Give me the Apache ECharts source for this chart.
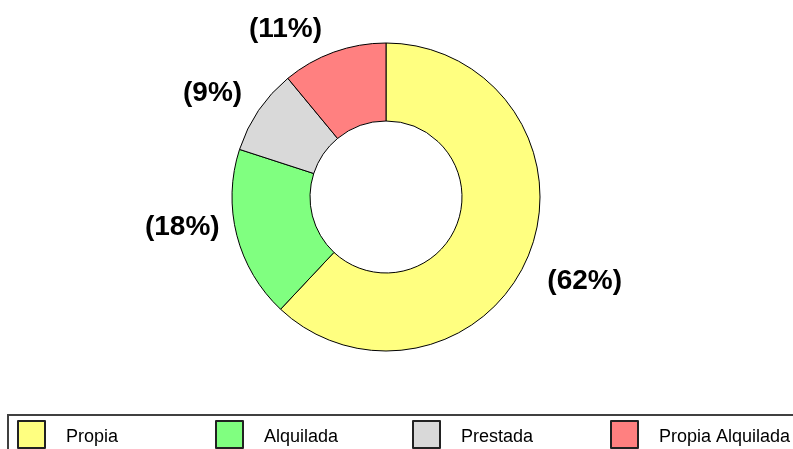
<!DOCTYPE html>
<html>
<head>
<meta charset="utf-8">
<style>
html,body{margin:0;padding:0;background:#fff;}
#chart{width:793px;height:449px;}
</style>
<script src="https://cdn.jsdelivr.net/npm/echarts@6/dist/echarts.min.js"></script>
</head>
<body>
<div id="chart"></div>
<script>
const categories = ['Propia', 'Alquilada', 'Prestada', 'Propia Alquilada'];
const values = [62, 18, 9, 11];
const colors = ['#FFFF80', '#80FF80', '#D9D9D9', '#FF8080'];
// layout/style helpers
const labelNudge = [[-6, 18], [8, -14], [5, -3], [-3, 2]];
const legendLeft = [17, 215, 412, 610];

const total = values.reduce((a, b) => a + b, 0);
const chart = echarts.init(document.getElementById('chart'), null, {renderer: 'canvas'});
chart.setOption({
  backgroundColor: '#ffffff',
  animation: false,
  graphic: [{
    type: 'rect',
    shape: {x: 8, y: 415, width: 800, height: 60},
    style: {fill: 'none', stroke: '#404040', lineWidth: 2},
    silent: true
  }],
  legend: categories.map((c, i) => ({
    left: legendLeft[i],
    top: 420,
    padding: 0,
    itemWidth: 27,
    itemHeight: 27,
    icon: 'rect',
    selectedMode: false,
    itemStyle: {borderColor: '#222', borderWidth: 2},
    formatter: name => '{t|' + name + '}',
    textStyle: {
      fontFamily: 'Liberation Sans, Arial, sans-serif',
      fontSize: 18,
      color: '#000',
      rich: {
        t: {
          fontFamily: 'Liberation Sans, Arial, sans-serif',
          fontSize: 18,
          color: '#000',
          padding: [6, 0, 0, 16]
        }
      }
    },
    data: [c]
  })),
  series: [{
    type: 'pie',
    center: [386, 197],
    radius: [76, 154],
    startAngle: 90,
    clockwise: true,
    avoidLabelOverlap: false,
    itemStyle: {borderColor: '#000', borderWidth: 1},
    label: {
      show: true,
      position: 'outside',
      distanceToLabelLine: 0,
      fontFamily: 'Liberation Sans, Arial, sans-serif',
      fontWeight: 'bold',
      fontSize: 28,
      color: '#000',
      formatter: p => '(' + Math.round(p.value / total * 100) + '%)'
    },
    labelLine: {show: false, length: 26, length2: 0},
    labelLayout: p => ({dx: labelNudge[p.dataIndex][0], dy: labelNudge[p.dataIndex][1]}),
    emphasis: {disabled: true},
    data: categories.map((c, i) => ({name: c, value: values[i], itemStyle: {color: colors[i]}}))
  }]
});
</script>
</body>
</html>
